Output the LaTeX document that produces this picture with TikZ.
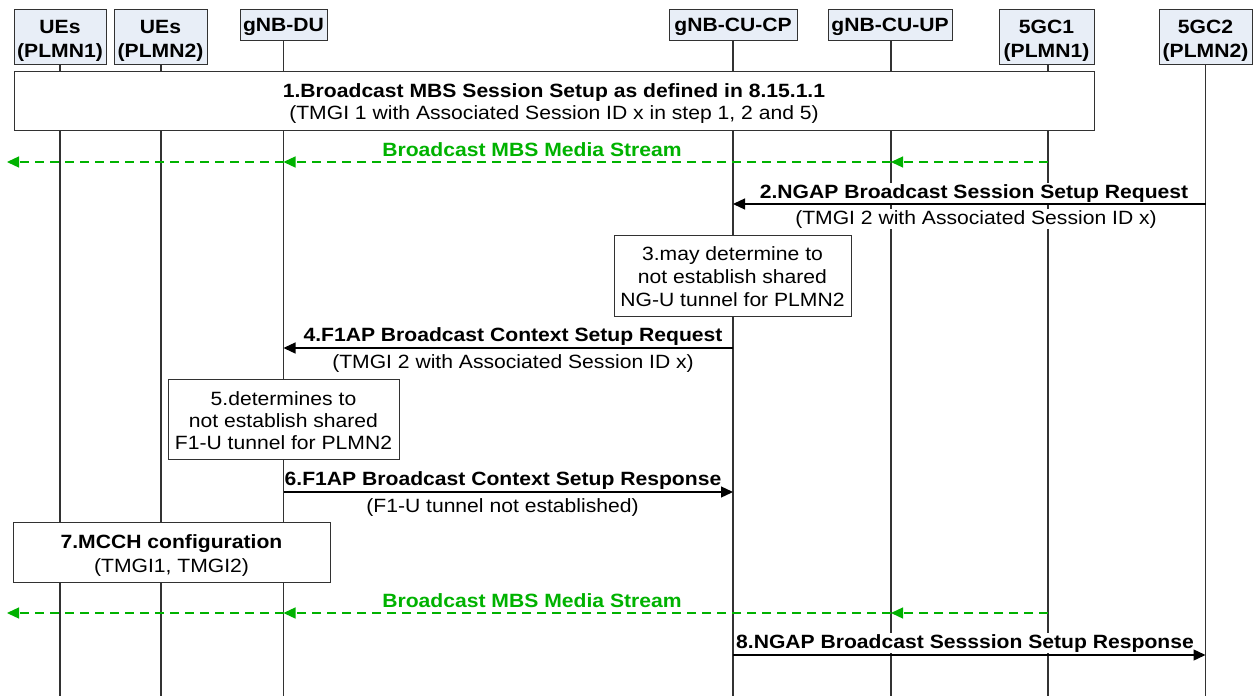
\documentclass[tikz,border=0pt]{standalone}
\usepackage{fontspec}
\setmainfont{Liberation Sans}[FakeStretch=1.1]
\usetikzlibrary{arrows.meta}
\definecolor{hdrfill}{RGB}{232,238,247}
\definecolor{lnc}{RGB}{50,50,50}
\definecolor{grn}{RGB}{0,178,0}
\tikzset{
  box/.style={draw=lnc, line width=1.3pt, fill=white, inner sep=0pt, anchor=north west},
  hdr/.style={box, fill=hdrfill},
  life/.style={draw=lnc, line width=1.3pt},
  txt/.style={anchor=base, inner sep=0pt, font=\fontsize{19.2}{23}\selectfont},
  btxt/.style={anchor=base, inner sep=0pt, font=\fontsize{19.2}{23}\selectfont\bfseries},
  lbl/.style={btxt, fill=white, inner sep=1pt},
  sublbl/.style={txt, fill=white, inner sep=1pt},
  glbl/.style={btxt, text=grn},
  msg/.style={draw=black, line width=1.3pt, -{Triangle[length=12pt,width=11pt]}},
  media/.style={draw=grn, line width=1.3pt, dash pattern=on 9pt off 6pt, -{Triangle[length=12pt,width=11pt]}}
}
\begin{document}
\begin{tikzpicture}[x=1pt,y=-1pt]
\useasboundingbox (0,0) rectangle (1253,696);
\fill[white] (0,0) rectangle (1253,696);
% header boxes
\node[hdr, minimum width=92, minimum height=55] (ue1) at (14,9) {};
\node[hdr, minimum width=93, minimum height=55] (ue2) at (114,9) {};
\node[hdr, minimum width=87, minimum height=31] (du) at (240,9) {};
\node[hdr, minimum width=128, minimum height=31] (cucp) at (669,9) {};
\node[hdr, minimum width=124, minimum height=31] (cuup) at (828,9) {};
\node[hdr, minimum width=95, minimum height=55] (gc1) at (999,9) {};
\node[hdr, minimum width=93, minimum height=55] (gc2) at (1159,9) {};
\node[btxt] (ue1a) at (60,33) {UEs};
\node[btxt] (ue1b) at (60,57) {(PLMN1)};
\node[btxt] (ue2a) at (160.5,33) {UEs};
\node[btxt] (ue2b) at (160.5,57) {(PLMN2)};
\node[btxt] (dut) at (283.5,31.5) {gNB-DU};
\node[btxt] (cucpt) at (733,31.5) {gNB-CU-CP};
\node[btxt] (cuupt) at (890,31.5) {gNB-CU-UP};
\node[btxt] (gc1a) at (1046.5,33) {5GC1};
\node[btxt] (gc1b) at (1046.5,57) {(PLMN1)};
\node[btxt] (gc2a) at (1205.5,33) {5GC2};
\node[btxt] (gc2b) at (1205.5,57) {(PLMN2)};
% lifelines
\coordinate (bot) at (0,696);
\coordinate (L1) at (60,64); \coordinate (L2) at (161,64); \coordinate (L3) at (283.5,40);
\coordinate (L4) at (733,40); \coordinate (L5) at (891,40); \coordinate (L6) at (1048,64);
\coordinate (L7) at (1205.5,64);
\foreach \l in {L1,L2,L3,L4,L5,L6,L7} { \draw[life] (\l) -- (\l |- bot); }
% step 1 box
\node[box, minimum width=1080, minimum height=59] (s1) at (14,71) {};
\node[btxt] (s1a) at (554,97) {1.Broadcast MBS Session Setup as defined in 8.15.1.1};
\node[txt] (s1b) at (554,119) {(TMGI 1 with Associated Session ID x in step 1, 2 and 5)};
% media stream 1
\coordinate (ym1) at (0,162);
\coordinate (left1) at (7,162);
\node[glbl] (m1) at (532,156) {Broadcast MBS Media Stream};
\draw[media] (L6 |- ym1) -- (L5 |- ym1);
\draw[media] (L5 |- ym1) -- (L3 |- ym1);
\draw[media] (L3 |- ym1) -- (left1);
% step 2
\coordinate (y2) at (0,204);
\node[lbl] (m2) at (974,198) {2.NGAP Broadcast Session Setup Request};
\node[sublbl] (m2s) at (976,224) {(TMGI 2 with Associated Session ID x)};
\draw[msg] (L7 |- y2) -- (L4 |- y2);
% step 3
\node[box, minimum width=237, minimum height=81] (s3) at (614,235) {};
\node[txt] (s3a) at (732.5,260) {3.may determine to};
\node[txt] (s3b) at (732.5,283) {not establish shared};
\node[txt] (s3c) at (732.5,306) {NG-U tunnel for PLMN2};
% step 4
\coordinate (y4) at (0,348);
\node[lbl] (m4) at (513,341) {4.F1AP Broadcast Context Setup Request};
\node[sublbl] (m4s) at (513,368) {(TMGI 2 with Associated Session ID x)};
\draw[msg] (L4 |- y4) -- (L3 |- y4);
% step 5
\node[box, minimum width=231, minimum height=80] (s5) at (168,379) {};
\node[txt] (s5a) at (283.5,405) {5.determines to};
\node[txt] (s5b) at (283.5,427) {not establish shared};
\node[txt] (s5c) at (283.5,449) {F1-U tunnel for PLMN2};
% step 6
\coordinate (y6) at (0,492);
\node[lbl] (m6) at (503,485) {6.F1AP Broadcast Context Setup Response};
\node[sublbl] (m6s) at (502.5,512) {(F1-U tunnel not established)};
\draw[msg] (L3 |- y6) -- (L4 |- y6);
% step 7
\node[box, minimum width=317, minimum height=60] (s7) at (13,522) {};
\node[btxt] (s7a) at (171.5,548) {7.MCCH configuration};
\node[txt] (s7b) at (171.5,572) {(TMGI1, TMGI2)};
% media stream 2
\coordinate (ym2) at (0,613);
\coordinate (left2) at (7,613);
\node[glbl] (m2g) at (532,607) {Broadcast MBS Media Stream};
\draw[media] (L6 |- ym2) -- (L5 |- ym2);
\draw[media] (L5 |- ym2) -- (L3 |- ym2);
\draw[media] (L3 |- ym2) -- (left2);
% step 8
\coordinate (y8) at (0,655);
\node[lbl] (m8) at (965,648) {8.NGAP Broadcast Sesssion Setup Response};
\draw[msg] (L4 |- y8) -- (L7 |- y8);
\end{tikzpicture}
\end{document}
